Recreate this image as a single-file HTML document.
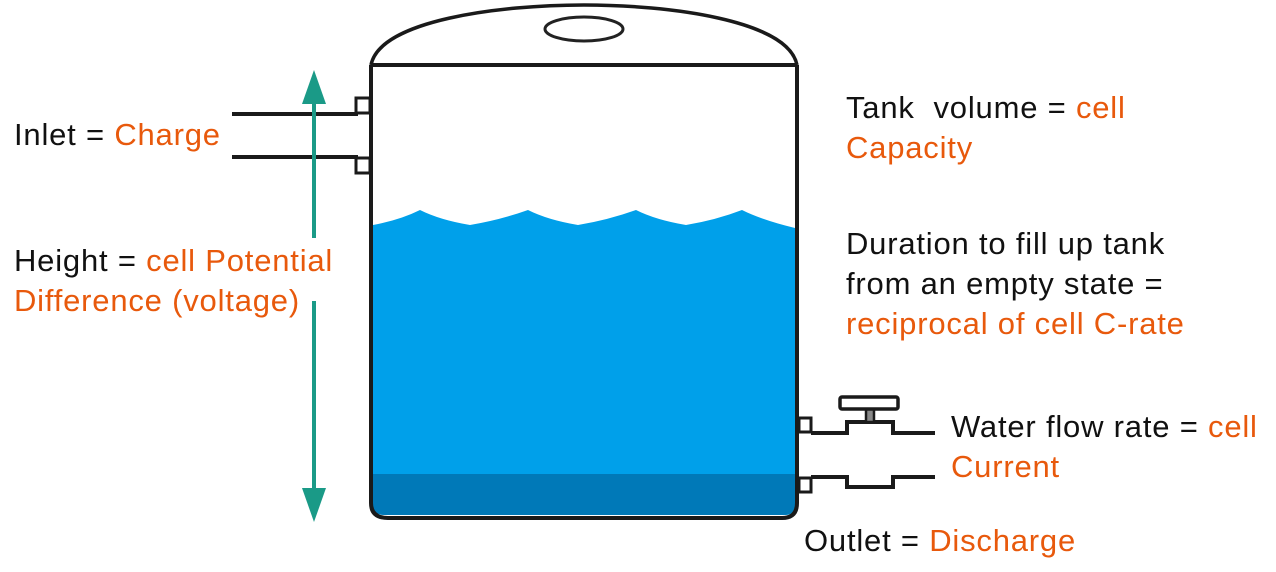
<!DOCTYPE html>
<html><head><meta charset="utf-8"><style>
body{margin:0;width:1276px;height:572px;background:#fff;overflow:hidden;position:relative;font-family:"Liberation Sans",sans-serif}
.t{position:absolute;font-size:31px;line-height:40px;color:#111;white-space:nowrap;letter-spacing:0.8px}
.o{color:#e8590c}
svg{position:absolute;left:0;top:0}
</style></head><body>
<svg width="1276" height="572" viewBox="0 0 1276 572">
  <path d="M373,225 Q400,220 420,210 Q440,220 470,225 Q500,220 528,210 Q548,220 578,225 Q608,220 636,210 Q656,220 686,225 Q716,220 742,210 Q762,220 795,228 L795,505 Q795,515 785,515 L385,515 Q373,515 373,505 Z" fill="#00a0ea"/>
  <path d="M373,474 L795,474 L795,505 Q795,515 783,515 L385,515 Q373,515 373,505 Z" fill="#0079b8"/>
  <path d="M371,65 L371,503 Q371,518 388,518 L782,518 Q797,518 797,503 L797,65" fill="none" stroke="#1a1a1a" stroke-width="4"/>
  <line x1="371" y1="65" x2="797" y2="65" stroke="#1a1a1a" stroke-width="4"/>
  <path d="M371,65 C380,20 500,5 584,5 C668,5 788,20 797,65" fill="none" stroke="#1a1a1a" stroke-width="3.5"/>
  <ellipse cx="584" cy="29" rx="39" ry="12" fill="#fff" stroke="#222" stroke-width="3"/>
  <line x1="232" y1="114" x2="358" y2="114" stroke="#1a1a1a" stroke-width="4"/>
  <line x1="232" y1="157" x2="358" y2="157" stroke="#1a1a1a" stroke-width="4"/>
  <rect x="356" y="98" width="14" height="15" fill="#fff" stroke="#1a1a1a" stroke-width="3"/>
  <rect x="356" y="158" width="14" height="15" fill="#fff" stroke="#1a1a1a" stroke-width="3"/>
  <rect x="799" y="418" width="12" height="14" fill="#fff" stroke="#1a1a1a" stroke-width="3"/>
  <rect x="799" y="478" width="12" height="14" fill="#fff" stroke="#1a1a1a" stroke-width="3"/>
  <path d="M811,433 L847,433 L847,422 L893,422 L893,433 L935,433" fill="none" stroke="#1a1a1a" stroke-width="4"/>
  <path d="M811,477 L847,477 L847,487 L893,487 L893,477 L935,477" fill="none" stroke="#1a1a1a" stroke-width="4"/>
  <rect x="866" y="409" width="8" height="13" fill="#888" stroke="#1a1a1a" stroke-width="2.5"/>
  <rect x="840" y="397" width="58" height="12" rx="2" fill="#fff" stroke="#1a1a1a" stroke-width="3.5"/>
  <line x1="314" y1="100" x2="314" y2="238" stroke="#1a9a87" stroke-width="4"/>
  <line x1="314" y1="301" x2="314" y2="494" stroke="#1a9a87" stroke-width="4"/>
  <polygon points="314,70 302,104 326,104" fill="#1a9a87"/>
  <polygon points="314,522 302,488 326,488" fill="#1a9a87"/>
</svg>
<div class="t" style="left:14px;top:115px">Inlet = <span class="o">Charge</span></div>
<div class="t" style="left:14px;top:241px">Height = <span class="o">cell Potential</span><br><span class="o">Difference (voltage)</span></div>
<div class="t" style="left:846px;top:88px">Tank&nbsp; volume = <span class="o">cell</span><br><span class="o">Capacity</span></div>
<div class="t" style="left:846px;top:224px">Duration to fill up tank<br>from an empty state =<br><span class="o">reciprocal of cell C-rate</span></div>
<div class="t" style="left:951px;top:407px">Water flow rate = <span class="o">cell</span><br><span class="o">Current</span></div>
<div class="t" style="left:804px;top:521px">Outlet = <span class="o">Discharge</span></div>
</body></html>
